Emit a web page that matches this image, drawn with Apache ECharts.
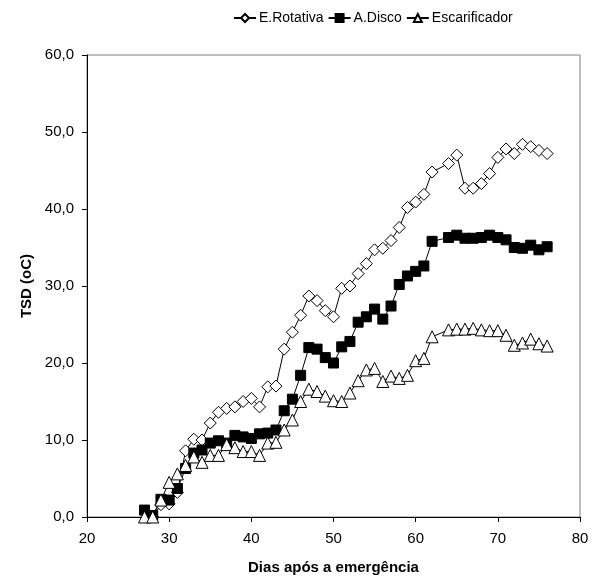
<!DOCTYPE html>
<html><head><meta charset="utf-8">
<script src="https://cdn.jsdelivr.net/npm/echarts@6/dist/echarts.min.js"></script>
<style>html,body{margin:0;padding:0;background:#fff}#c{width:601px;height:580px}</style>
</head><body><div id="c"></div>
<script>
const days = [27,28,29,30,31,32,33,34,35,36,37,38,39,40,41,42,43,44,45,46,47,48,49,50,51,52,53,54,55,56,57,58,59,60,61,62,64,65,66,67,68,69,70,71,72,73,74,75,76];
const eRotativa = [null,0.0,1.6,1.7,3.2,8.6,10.1,10.0,12.2,13.6,14.1,14.3,15.0,15.4,14.3,16.9,17.0,21.8,24.0,26.2,28.7,28.1,26.8,26.0,29.7,30.0,31.6,32.9,34.7,34.9,35.9,37.6,40.2,40.9,41.9,44.8,45.9,47.0,42.7,42.7,43.3,44.6,46.7,47.8,47.2,48.4,48.1,47.6,47.2];
const aDisco = [0.9,0.2,2.3,2.2,3.7,6.3,8.3,8.7,9.6,9.9,9.6,10.6,10.4,10.2,10.8,10.9,11.3,13.8,15.3,18.4,22.0,21.8,20.7,20.0,22.1,22.8,25.3,26.0,27.0,25.7,27.4,30.2,31.3,31.9,32.6,35.8,36.3,36.6,36.2,36.2,36.3,36.6,36.3,36.0,35.0,34.9,35.3,34.7,35.1];
const escarificador = [0.0,0.0,2.2,4.5,5.6,6.7,7.8,7.1,8.0,8.0,9.4,9.0,8.5,8.5,8.0,9.6,9.7,11.3,12.6,15.0,16.6,16.3,15.7,15.1,15.0,16.1,17.7,19.1,19.3,17.6,18.3,18.0,18.4,20.3,20.6,23.4,24.3,24.4,24.4,24.5,24.3,24.2,24.2,23.6,22.3,22.6,23.1,22.5,22.2];
const seriesNames = ['E.Rotativa','A.Disco','Escarificador'];
const xTicks = [20,80,10];
const yTicks = [0,60,10];

const pair = arr => days.map((d,i)=>[d,arr[i]]);
const chart = echarts.init(document.getElementById('c'));
const font = 'Liberation Sans, Arial, sans-serif';
const mk = (name, data, symbol, fill, size) => ({
  name, type:'line', data: pair(data), symbol, symbolSize: size,
  connectNulls:false,
  lineStyle:{color:'#000',width:1},
  itemStyle:{color:fill,borderColor:'#000',borderWidth:1},
  emphasis:{disabled:true}, animation:false, z: 3
});
chart.setOption({
  animation:false,
  textStyle:{fontFamily:font},
  legend:{
    top:6, left:228, itemWidth:22, itemHeight:10, itemGap:4,
    textStyle:{fontSize:14,color:'#000',fontFamily:font,padding:[0,0,0,-2]},
    data: seriesNames
  },
  grid:{left:87,right:21,top:55,bottom:63,show:true,borderColor:'#808080',borderWidth:1},
  xAxis:{
    type:'value', min:xTicks[0], max:xTicks[1], interval:xTicks[2],
    name:'Dias após a emergência', nameLocation:'middle', nameGap:43,
    nameTextStyle:{fontSize:15,fontWeight:'bold',color:'#000',fontFamily:font},
    axisLine:{lineStyle:{color:'#000',width:1}},
    axisTick:{show:true,length:5,lineStyle:{color:'#000'}},
    axisLabel:{fontSize:15,color:'#000',margin:14,fontFamily:font},
    splitLine:{show:false}
  },
  yAxis:{
    type:'value', min:yTicks[0], max:yTicks[1], interval:yTicks[2],
    name:'TSD (oC)', nameLocation:'middle', nameGap:52,
    nameTextStyle:{fontSize:15,fontWeight:'bold',color:'#000',fontFamily:font},
    axisLine:{show:true,lineStyle:{color:'#000',width:1}},
    axisTick:{show:true,length:5,lineStyle:{color:'#000'}},
    axisLabel:{fontSize:15,color:'#000',margin:13,fontFamily:font,formatter:v=>v.toFixed(1).replace('.',',')},
    splitLine:{show:false}
  },
  series:[
    mk(seriesNames[0], eRotativa, 'diamond', '#fff', 12),
    mk(seriesNames[1], aDisco, 'rect', '#000', 10),
    mk(seriesNames[2], escarificador, 'triangle', '#fff', 12)
  ]
});
</script></body></html>
